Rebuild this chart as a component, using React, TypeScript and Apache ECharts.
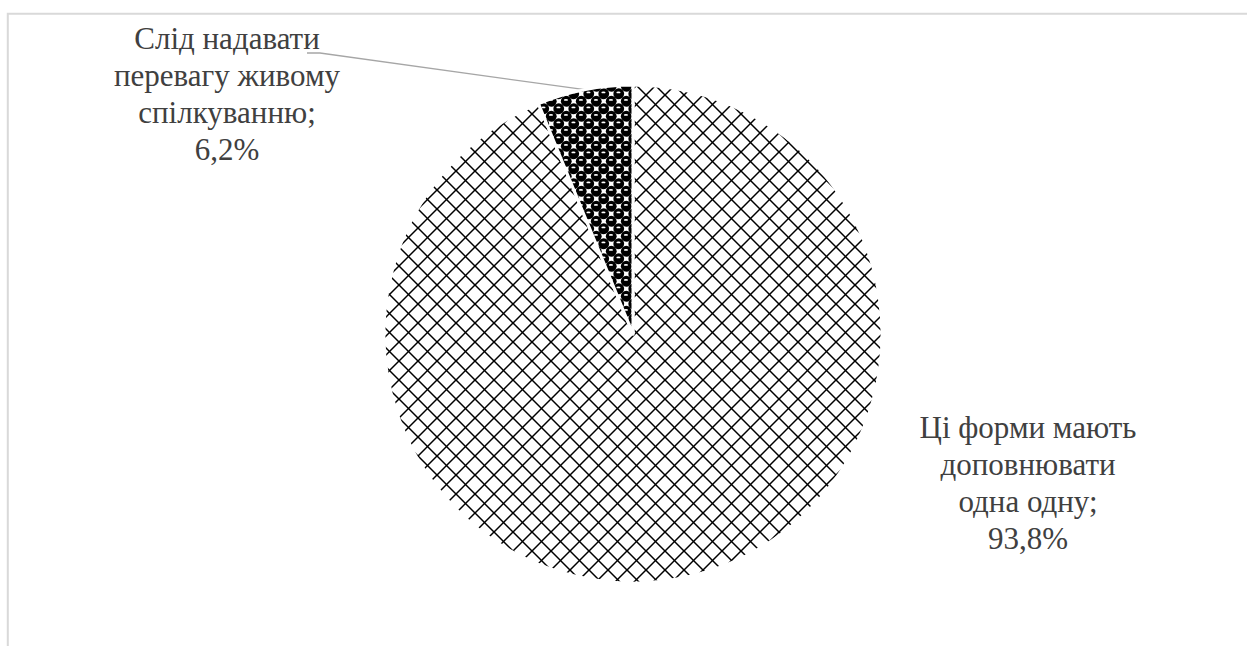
import React, { useEffect, useRef } from 'react';
import * as echarts from 'echarts';

// ---- data ----
const categories = [
  'Ці форми мають\nдоповнювати\nодна одну',
  'Слід надавати\nперевагу живому\nспілкуванню',
];
const values = [93.8, 6.2];

// ---- layout constants (pixels in the 1247x646 chart) ----
const W = 1247;
const H = 646;
const PIE_CENTER = [633, 334];
const PIE_RADIUS = 249;
const LABEL_POS: number[][] = [
  [1028, 483],
  [227, 94],
];
const SERIF = 'Liberation Serif';

function makeDiamond(): HTMLCanvasElement {
  const s = 19;
  const c = document.createElement('canvas');
  c.width = s;
  c.height = s;
  const g = c.getContext('2d')!;
  g.fillStyle = '#ffffff';
  g.fillRect(0, 0, s, s);
  g.strokeStyle = '#000000';
  g.lineWidth = 1.5;
  for (const dx of [-s, 0, s]) {
    g.beginPath();
    g.moveTo(dx, 0);
    g.lineTo(dx + s, s);
    g.stroke();
    g.beginPath();
    g.moveTo(dx + s, 0);
    g.lineTo(dx, s);
    g.stroke();
  }
  return c;
}

function makeSphere(): HTMLCanvasElement {
  const s = 15;
  const c = document.createElement('canvas');
  c.width = s;
  c.height = s;
  const g = c.getContext('2d')!;
  g.fillStyle = '#ffffff';
  g.fillRect(0, 0, s, s);
  const centers = [
    [3.75, 3.75],
    [11.25, 11.25],
  ];
  for (const [cx0, cy0] of centers) {
    for (const ox of [-s, 0, s]) {
      for (const oy of [-s, 0, s]) {
        const cx = cx0 + ox;
        const cy = cy0 + oy;
        g.fillStyle = '#000000';
        g.beginPath();
        g.arc(cx, cy, 5.4, 0, Math.PI * 2);
        g.fill();
        g.fillStyle = '#ffffff';
        g.beginPath();
        g.ellipse(cx - 0.3, cy - 1.3, 2.1, 0.9, 0, 0, Math.PI * 2);
        g.fill();
      }
    }
  }
  return c;
}

export default function App() {
  const ref = useRef<HTMLDivElement>(null);

  useEffect(() => {
    if (!ref.current) return;
    const chart = echarts.init(ref.current, undefined, { renderer: 'svg' });
    const patterns = [
      { image: makeDiamond(), repeat: 'repeat', imageWidth: 19, imageHeight: 19 },
      { image: makeSphere(), repeat: 'repeat', imageWidth: 15, imageHeight: 15 },
    ];

    const data = categories.map((name, i) => ({
      name,
      value: values[i],
      itemStyle: { color: patterns[i] as any },
      labelLine: { show: i === 1 },
    }));

    const textStyle = {
      fontFamily: SERIF,
      fontSize: 31,
      lineHeight: 37,
      color: '#404040',
      align: 'center',
    };

    chart.setOption({
      animation: false,
      backgroundColor: '#ffffff',
      textStyle: { fontFamily: SERIF },
      graphic: [
        {
          type: 'rect',
          silent: true,
          shape: { x: 7.8, y: 13.8, width: 1260, height: 660 },
          style: { fill: 'none', stroke: '#d9d9d9', lineWidth: 2 },
        },
      ],
      series: [
        {
          type: 'pie',
          center: PIE_CENTER,
          radius: PIE_RADIUS,
          startAngle: 90,
          clockwise: true,
          avoidLabelOverlap: false,
          data,
          itemStyle: { borderColor: '#ffffff', borderWidth: 3 },
          label: {
            show: true,
            position: 'outside',
            formatter: (p: any) => {
              const lines = `${p.name};\n${Number(p.value).toFixed(1).replace('.', ',')}%`.split('\n');
              return lines.map((l) => `{t|${l}}`).join('\n');
            },
            ...textStyle,
            rich: { t: textStyle },
          },
          labelLine: {
            show: true,
            length: 20,
            length2: 20,
            lineStyle: { color: '#a6a6a6', width: 1.3 },
          },
          emphasis: { disabled: true },
          labelLayout: (params: any) => {
            const i = params.dataIndex;
            const [x, y] = LABEL_POS[i];
            const out: any = { x, y, align: 'center', verticalAlign: 'middle' };
            if (i === 1 && params.labelLinePoints) {
              const p0 = params.labelLinePoints[0];
              out.labelLinePoints = [p0, [x + 93, y - 41], [x + 80, y - 41]];
            }
            return out;
          },
        },
      ],
    });
    return () => chart.dispose();
  }, []);

  return (
    <div
      ref={ref}
      style={{ position: 'fixed', left: 0, top: 0, width: W, height: H }}
    />
  );
}
